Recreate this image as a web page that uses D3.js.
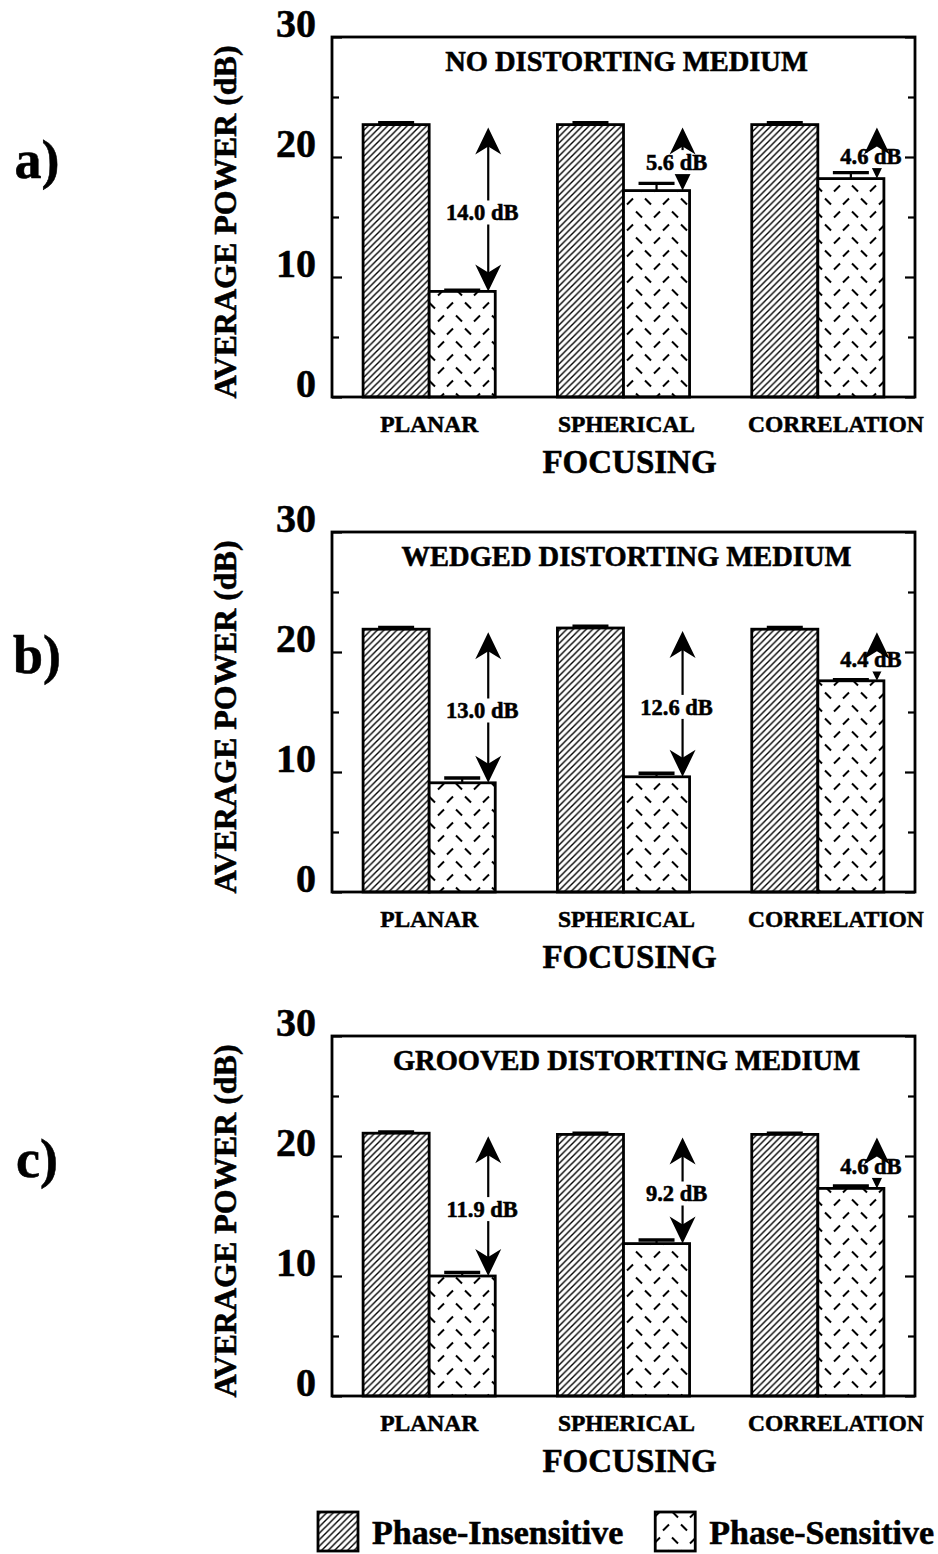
<!DOCTYPE html>
<html><head><meta charset="utf-8">
<script src="https://cdn.jsdelivr.net/npm/d3@7"></script>
<style>
body{margin:0;background:#fff}
svg{display:block}
text{font-family:"Liberation Serif","Times New Roman",serif;font-weight:bold;fill:#000;stroke:#000;stroke-width:0.55px}
</style>
</head><body>
<svg id="chart" width="938" height="1554"></svg>
<script>
// ---------------- data ----------------
const categories = ["PLANAR", "SPHERICAL", "CORRELATION"];
const seriesNames = ["Phase-Insensitive", "Phase-Sensitive"];
const panelLetters = ["a)", "b)", "c)"];
const panelTitles = ["NO DISTORTING MEDIUM", "WEDGED DISTORTING MEDIUM", "GROOVED DISTORTING MEDIUM"];
const insensitive = [[22.7, 22.7, 22.7], [21.9, 22.0, 21.9], [21.9, 21.8, 21.8]];
const sensitive = [[8.8, 17.2, 18.2], [9.1, 9.6, 17.6], [10.0, 12.7, 17.3]];
const insensitiveErr = [[0.15, 0.15, 0.15], [0.15, 0.15, 0.15], [0.1, 0.1, 0.1]];
const sensitiveErr = [[0.1, 0.6, 0.5], [0.4, 0.3, 0.1], [0.3, 0.3, 0.2]];
const diffLabels = [["14.0 dB", "5.6 dB", "4.6 dB"], ["13.0 dB", "12.6 dB", "4.4 dB"], ["11.9 dB", "9.2 dB", "4.6 dB"]];
const yTicksMajor = [0, 10, 20, 30];
const yTicksMinor = [5, 15, 25];
const yDomain = [0, 30];
const yLabel = "AVERAGE POWER (dB)";
const xLabel = "FOCUSING";

// ---------------- layout ----------------
const svg = d3.select("#chart");
const left = 332, right = 915;
const panelTop = [37, 532, 1036];
const panelH = 360;

const defs = svg.append("defs");
const hatch = defs.append("pattern").attr("id", "hatch")
  .attr("patternUnits", "userSpaceOnUse").attr("width", 6.5).attr("height", 6.5);
hatch.append("path").attr("d", "M-1,1 l2,-2 M0,6.5 l6.5,-6.5 M5.5,7.5 l2,-2")
  .attr("stroke", "#000").attr("stroke-width", 1.4);
const dash = defs.append("pattern").attr("id", "dash")
  .attr("patternUnits", "userSpaceOnUse").attr("width", 36).attr("height", 26);
dash.append("path")
  .attr("d", "M6,9.5 L12,3.5 M24,3.5 L30,9.5 M-3,16.5 L3,22.5 M33,16.5 L39,22.5 M15,22.5 L21,16.5")
  .attr("stroke", "#000").attr("stroke-width", 2);
const fills = ["url(#hatch)", "url(#dash)"];

const x = d3.scaleBand().domain(categories).range([left, right])
  .paddingInner(0.32).paddingOuter(0.16);
const xs = d3.scaleBand().domain(seriesNames).range([0, x.bandwidth()]);

function arrowHead(g, xA, yTip, dir) {
  // dir = -1 pointing up, +1 pointing down
  const L = 27, W = 13, N = 19;
  g.append("path")
    .attr("d", `M${xA},${yTip} L${xA - W},${yTip - dir * L} L${xA},${yTip - dir * N} L${xA + W},${yTip - dir * L} Z`)
    .attr("fill", "#000");
}

panelTop.forEach((top, p) => {
  const y = d3.scaleLinear().domain(yDomain).range([top + panelH, top]);
  const g = svg.append("g");
  const y0 = top + panelH;

  // bars
  categories.forEach((c, i) => {
    const vals = [insensitive[p][i], sensitive[p][i]];
    const errs = [insensitiveErr[p][i], sensitiveErr[p][i]];
    seriesNames.forEach((s, k) => {
      g.append("rect")
        .attr("x", x(c) + xs(s)).attr("width", xs.bandwidth())
        .attr("y", y(vals[k])).attr("height", y(0) - y(vals[k]))
        .attr("fill", "#fff");
      g.append("rect")
        .attr("x", x(c) + xs(s)).attr("width", xs.bandwidth())
        .attr("y", y(vals[k])).attr("height", y(0) - y(vals[k]))
        .attr("fill", fills[k]).attr("stroke", "#000").attr("stroke-width", 2.8);
    });
    // error bars
    seriesNames.forEach((s, k) => {
      const cx = x(c) + xs(s) + xs.bandwidth() / 2;
      const v = vals[k], e = errs[k];
      g.append("line").attr("x1", cx).attr("x2", cx)
        .attr("y1", y(v)).attr("y2", y(v + e)).attr("stroke", "#000").attr("stroke-width", 2.2);
      g.append("line").attr("x1", cx - 18).attr("x2", cx + 18)
        .attr("y1", y(v + e)).attr("y2", y(v + e)).attr("stroke", "#000").attr("stroke-width", 3.4);
    });
    // difference arrow
    const xA = x(c) + x.bandwidth() - 7;
    const yT = y(insensitive[p][i]) + 3;
    const yB = y(sensitive[p][i]);
    g.append("line").attr("x1", xA).attr("x2", xA).attr("y1", yT + 15).attr("y2", yB - 15)
      .attr("stroke", "#000").attr("stroke-width", 2.2);
    arrowHead(g, xA, yB, 1);
    const ym = (yT + yB) / 2 + 3;
    const t = g.append("text").attr("x", xA - 6).attr("y", ym).attr("dy", "0.35em")
      .attr("text-anchor", "middle").attr("font-size", 22.5).text(diffLabels[p][i]);
    const bb = t.node().getBBox();
    g.insert("rect", "text:last-of-type")
      .attr("x", bb.x - 2).attr("width", bb.width + 4)
      .attr("y", ym - 12).attr("height", 24).attr("fill", "#fff");
    t.raise();
    arrowHead(g, xA, yT, -1);
  });

  // frame
  g.append("rect").attr("x", left).attr("y", top).attr("width", right - left).attr("height", panelH)
    .attr("fill", "none").attr("stroke", "#000").attr("stroke-width", 2.8);

  // ticks
  const styleAxis = sel => { sel.select(".domain").remove(); sel.selectAll(".tick line").attr("stroke-width", 2.2); };
  g.append("g").attr("transform", `translate(${left},0)`)
    .call(d3.axisLeft(y).tickValues(yTicksMajor).tickSize(-10).tickPadding(16).tickFormat(d3.format("d")))
    .call(styleAxis)
    .call(a => a.selectAll("text").attr("font-size", 40).attr("dy", "-0.02em")
      .attr("font-family", null).attr("fill", "#000"));
  g.append("g").attr("transform", `translate(${left},0)`)
    .call(d3.axisLeft(y).tickValues(yTicksMinor).tickSize(-7).tickFormat(""))
    .call(styleAxis);
  g.append("g").attr("transform", `translate(${right},0)`)
    .call(d3.axisRight(y).tickValues(yTicksMajor).tickSize(-10).tickFormat(""))
    .call(styleAxis);
  g.append("g").attr("transform", `translate(${right},0)`)
    .call(d3.axisRight(y).tickValues(yTicksMinor).tickSize(-7).tickFormat(""))
    .call(styleAxis);

  // category labels
  g.append("g").attr("transform", `translate(0,${y0})`)
    .call(d3.axisBottom(x).tickSize(0).tickPadding(18))
    .call(a => a.select(".domain").remove())
    .call(a => a.selectAll("text").attr("font-size", 23.5).attr("font-family", null).attr("fill", "#000")
      .attr("dx", (d, i) => i === categories.length - 1 ? 18 : (i === 1 ? 3 : 0)));

  // axis titles
  g.append("text").attr("x", (left + right) / 2 + 6).attr("y", y0 + 76)
    .attr("text-anchor", "middle").attr("font-size", 33).text(xLabel);
  g.append("text").attr("transform", `translate(225,${top + panelH / 2 + 5}) rotate(-90)`)
    .attr("text-anchor", "middle").attr("dy", "0.35em").attr("font-size", 32).text(yLabel);

  // panel title
  g.append("text").attr("x", (left + right) / 2 + 3).attr("y", top + 34)
    .attr("text-anchor", "middle").attr("font-size", 28.5).text(panelTitles[p]);

  // panel letter
  g.append("text").attr("x", 37).attr("y", top + 141)
    .attr("text-anchor", "middle").attr("font-size", 54).text(panelLetters[p]);
});

// legend
const lg = svg.append("g");
let lx = 318;
seriesNames.forEach((s, k) => {
  lg.append("rect").attr("x", lx).attr("y", 1512).attr("width", 40).attr("height", 39)
    .attr("fill", fills[k]).attr("stroke", "#000").attr("stroke-width", 2.8);
  const t = lg.append("text").attr("x", lx + 54).attr("y", 1544).attr("font-size", 34).text(s);
  lx = lx + 54 + t.node().getComputedTextLength() + 32;
});
</script>
</body></html>
